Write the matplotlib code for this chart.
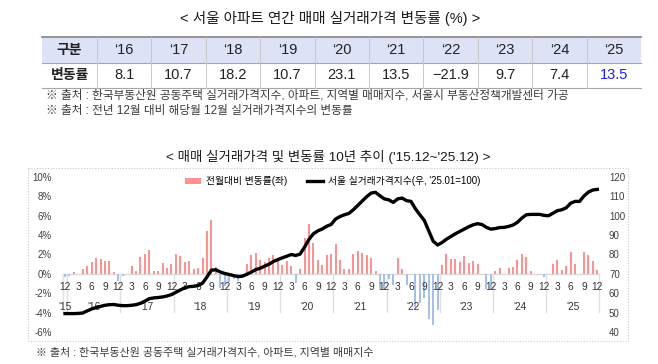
import matplotlib
matplotlib.use("Agg")
import matplotlib.pyplot as plt
from matplotlib.patches import Rectangle, Patch
from matplotlib.lines import Line2D

plt.rcParams['font.family'] = ['Liberation Sans', 'Noto Sans CJK KR']

# annual change table
table_years = ["\u201816", "\u201817", "\u201818", "\u201819", "\u201820",
               "\u201821", "\u201822", "\u201823", "\u201824", "\u201825"]
table_rates = [8.1, 10.7, 18.2, 10.7, 23.1, 13.5, -21.9, 9.7, 7.4, 13.5]

# monthly series, 2015.12 ~ 2025.12
first_year, first_month = 2015, 12
mom_change = [
    -0.3,
    -0.2, 0.2, 0.0, 0.5, 0.8, 1.2, 1.6, 1.5, 1.3, 1.3, 0.2, -0.7,      # 2016
    -0.2, 0.0, 0.8, 0.3, 1.7, 2.1, 2.5, 0.3, 0.3, 1.1, 0.6, 1.0,       # 2017
    2.1, 1.8, 1.2, 1.3, 0.5, 0.6, 1.6, 4.4, 5.6, 0.7, -1.5, -1.2,      # 2018
    -0.8, -0.5, -0.7, -0.2, 1.0, 2.0, 2.2, 1.4, 1.2, 1.6, 2.0, 1.6,    # 2019
    0.9, 1.3, 0.8, -0.9, 0.5, 3.7, 5.1, 3.2, 1.4, 0.9, 1.9, 2.1,       # 2020
    3.1, 1.45, 0.55, 0.55, 2.05, 2.4, 2.2, 1.9, 1.6, 0.25, -1.6, -1.6,  # 2021
    -0.5, -1.1, 1.6, 0.5, -1.1, 0.0, -3.4, -3.0, -2.5, -4.7, -5.3, -3.7,  # 2022
    0.9, 2.1, 1.5, 1.5, 1.2, 1.8, 1.1, 1.3, 1.0, 0.0, -1.6, -1.6,      # 2023
    0.25, 0.6, 0.0, 0.6, 0.75, 1.4, 2.1, 1.7, 0.3, 0.0, 0.0, -0.35,    # 2024
    0.0, 1.0, 1.4, 0.35, 0.85, 2.3, 1.0, 0.0, 2.3, 2.0, 1.3, 0.4,      # 2025
]
price_index = [
    49.5,
    49.5, 49.5, 49.6, 49.8, 50.9, 51.9, 52.6, 53.2, 53.8, 54.1, 54.2, 53.8,
    53.6, 53.6, 53.8, 54.1, 54.8, 55.9, 57.2, 57.6, 57.8, 58.1, 58.6, 59.3,
    60.5, 61.7, 62.8, 63.4, 63.6, 64.0, 65.2, 68.4, 71.9, 72.1, 71.0, 70.2,
    69.7, 69.1, 68.6, 68.8, 69.8, 70.9, 72.2, 72.9, 74.0, 75.0, 76.4, 77.4,
    78.3, 79.1, 80.0, 79.5, 80.2, 83.8, 87.8, 90.7, 92.2, 93.2, 94.6, 95.5,
    98.3, 99.6, 100.5, 101.2, 103.1, 105.3, 107.6, 109.8, 111.7, 112.1, 110.3, 108.7,
    108.2, 106.9, 108.7, 109.1, 107.8, 107.4, 103.6, 100.5, 97.6, 92.2, 86.9, 84.9,
    86.2, 87.9, 89.3, 90.7, 91.9, 93.1, 94.3, 95.3, 95.9, 95.5, 94.0, 93.1,
    93.4, 93.9, 94.0, 94.5, 95.2, 96.6, 98.8, 100.5, 100.7, 100.7, 100.7, 100.2,
    100.0, 101.3, 102.6, 103.1, 104.1, 106.5, 107.4, 107.4, 110.2, 112.2, 113.3, 113.6,
]

n = len(mom_change)
months = [(first_month - 1 + i) % 12 + 1 for i in range(n)]
years = [first_year + (first_month - 1 + i) // 12 for i in range(n)]

fig = plt.figure(figsize=(6.58, 3.64), dpi=100)

# page layer in pixel coords for titles, table and notes
bg = fig.add_axes([0, 0, 1, 1])
bg.set_xlim(0, 658)
bg.set_ylim(364, 0)
bg.axis('off')

bg.text(330, 18, "< 서울 아파트 연간 매매 실거래가격 변동률 (%) >", ha='center', va='center',
        fontsize=10.5, color='#1a1a1a')

left, first_w, col_w = 42, 55, 54.4
top, row_h = 37, 25.5
right = left + first_w + col_w * len(table_years)
bg.add_patch(Rectangle((left, top), right - left, row_h, facecolor='#dde2f6', edgecolor='none'))
bg.plot([left, right], [top, top], color='#8c8c8c', lw=1.3)
bg.plot([left, right], [top + row_h, top + row_h], color='#a6a6a6', lw=0.8)
bg.plot([left, right], [top + 2 * row_h, top + 2 * row_h], color='#a6a6a6', lw=0.8)
for k in range(len(table_years)):
    xx = left + first_w + k * col_w
    bg.plot([xx, xx], [top, top + 2 * row_h], color='#c8c8c8', lw=0.7)

bg.text(left + first_w / 2, top + row_h / 2, "구분", ha='center', va='center',
        fontsize=10, fontweight='bold', color='#222222')
bg.text(left + first_w / 2, top + row_h * 1.5, "변동률", ha='center', va='center',
        fontsize=10, fontweight='bold', color='#222222')
for k, (yl, rate) in enumerate(zip(table_years, table_rates)):
    cx = left + first_w + (k + 0.5) * col_w
    bg.text(cx, top + row_h / 2, yl, ha='center', va='center', fontsize=10.5, color='#222222')
    col = '#1a1aff' if k == len(table_rates) - 1 else '#222222'
    bg.text(cx, top + row_h * 1.5, f"{rate:.1f}".replace('-', '\u2212'), ha='center', va='center',
            fontsize=10.5, color=col)

bg.text(46, 96, "※ 출처 : 한국부동산원 공동주택 실거래가격지수, 아파트, 지역별 매매지수, 서울시 부동산정책개발센터 가공",
        ha='left', va='center', fontsize=8.4, color='#3a3a3a')
bg.text(46, 111, "※ 출처 : 전년 12월 대비 해당월 12월 실거래가격지수의 변동률",
        ha='left', va='center', fontsize=8.4, color='#3a3a3a')

bg.text(328, 157, "< 매매 실거래가격 및 변동률 10년 추이 ('15.12~'25.12) >", ha='center', va='center',
        fontsize=9.7, color='#1a1a1a')
bg.add_patch(Rectangle((28, 168), 600, 173, facecolor='none', edgecolor='#c8c8c8',
                       lw=0.8, linestyle=(0, (1, 1.5))))
bg.text(36, 352, "※ 출처 : 한국부동산원 공동주택 실거래가격지수, 아파트, 지역별 매매지수",
        ha='left', va='center', fontsize=7.9, color='#3a3a3a')

# chart
ax = fig.add_axes([59.7 / 658, 32 / 364, 542.9 / 658, 155 / 364])
x = list(range(n))
bar_colors = ['#ff9191' if v >= 0 else '#a7c0ea' for v in mom_change]
ax.bar(x, mom_change, width=0.45, color=bar_colors, zorder=2)
ax.set_xlim(-1.2, n + 0.2)
ax.set_ylim(-6, 10)
ax.set_yticks(range(-6, 11, 2))
ax.set_yticklabels([f"{t}%" for t in range(-6, 11, 2)])
ax.tick_params(axis='y', length=0, pad=5.5, labelsize=7, labelcolor='#404040')
ax.set_xticks([])
for s in ax.spines.values():
    s.set_visible(False)

ax.plot([-0.5, n - 0.5], [0, 0], color='#d9d9d9', lw=1, zorder=1)
bounds = [-0.5] + [i + 0.5 for i in range(n) if months[i] == 12]
for b in bounds:
    ax.plot([b, b], [0, -3.9], color='#e0e0e0', lw=1, zorder=1)
for i in range(n):
    if months[i] % 3 == 0:
        ax.text(i, -1.35, str(months[i]), ha='center', va='center', fontsize=7.3, color='#333333')
for yr in sorted(set(years)):
    idx = [i for i in range(n) if years[i] == yr]
    ax.text(sum(idx) / len(idx), -3.4, "'" + str(yr)[2:], ha='center', va='center',
            fontsize=7.3, color='#333333')

ax2 = ax.twinx()
ax2.plot(x, price_index, color='black', lw=2.4, solid_joinstyle='round')
ax2.set_ylim(40, 120)
ax2.set_yticks(range(40, 121, 10))
ax2.tick_params(axis='y', length=0, pad=4.6, labelsize=7, labelcolor='#404040')
for s in ax2.spines.values():
    s.set_visible(False)

handles = [Patch(facecolor='#ff9191', edgecolor='none'), Line2D([], [], color='black', lw=2.4)]
ax2.legend(handles, ["전월대비 변동률(좌)", "서울 실거래가격지수(우, '25.01=100)"],
           loc='center', bbox_to_anchor=(0.503, 0.972), ncol=2, frameon=False,
           fontsize=7, handlelength=1.7, handleheight=0.6, handletextpad=0.5, columnspacing=2)

fig.savefig("out.png", dpi=100)
